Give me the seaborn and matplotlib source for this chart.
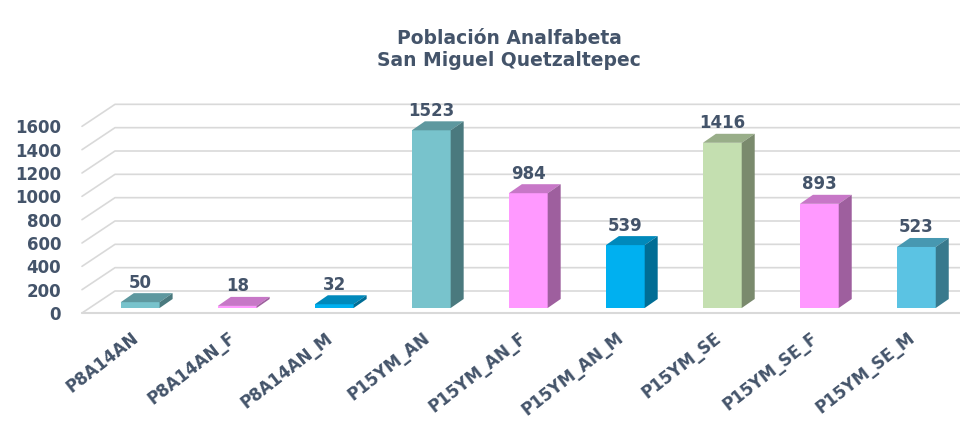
import numpy as np
import pandas as pd
import matplotlib
matplotlib.use("Agg")
import matplotlib.pyplot as plt
import matplotlib.transforms as mtransforms
from matplotlib.patches import Polygon
from matplotlib.colors import to_rgb
import seaborn as sns

categories = ["P8A14AN", "P8A14AN_F", "P8A14AN_M", "P15YM_AN", "P15YM_AN_F",
              "P15YM_AN_M", "P15YM_SE", "P15YM_SE_F", "P15YM_SE_M"]
values = [50, 18, 32, 1523, 984, 539, 1416, 893, 523]
bar_colors = ["#78C3CC", "#FF99FF", "#00B0F0", "#78C3CC", "#FF99FF",
              "#00B0F0", "#C4DFB0", "#FF99FF", "#5BC3E3"]
yticks = [0, 200, 400, 600, 800, 1000, 1200, 1400, 1600]
title = "Población Analfabeta\nSan Miguel Quetzaltepec"

TEXT = "#44546A"
GRID = "#D9D9D9"

sns.set_theme(style="white")
plt.rcParams["font.family"] = ["DejaVu Sans"]

DPI = 100
fig = plt.figure(figsize=(9.6, 4.21), dpi=DPI)
fig.patch.set_facecolor("white")
ax = fig.add_axes([82 / 960, (421 - 308) / 421, 878 / 960, 210 / 421])
ax.set_facecolor("none")

df = pd.DataFrame({"cat": categories, "val": values})
sns.barplot(data=df, x="cat", y="val", hue="cat", palette=bar_colors,
            legend=False, width=0.4, saturation=1, ax=ax, zorder=3)

ax.set_xlim(-0.6, 8.45)
ax.set_ylim(0, 1800)

# depth offsets (pixels)
DX, DY = 13, 9
px_x = (8.45 + 0.6) / 878.0
px_y = 1800 / 210.0
dxd, dyd = DX * px_x, DY * px_y

def shade(c, f):
    r, g, b = to_rgb(c)
    return (r * f, g * f, b * f)

bars = list(ax.patches)
for patch, col in zip(bars, bar_colors):
    x0 = patch.get_x()
    w = patch.get_width()
    h = patch.get_height()
    x1 = x0 + w
    top = Polygon([(x0, h), (x1, h), (x1 + dxd, h + dyd), (x0 + dxd, h + dyd)],
                  closed=True, facecolor=shade(col, 0.78), edgecolor="none", zorder=3)
    side = Polygon([(x1, 0), (x1, h), (x1 + dxd, h + dyd), (x1 + dxd, dyd)],
                   closed=True, facecolor=shade(col, 0.62), edgecolor="none", zorder=3)
    ax.add_patch(top)
    ax.add_patch(side)
    patch.set_edgecolor("none")

# perspective gridlines: front-left diagonal and back wall horizontal
back = ax.transData + mtransforms.ScaledTranslation(33 / DPI, 17 / DPI, fig.dpi_scale_trans)
front = ax.transData + mtransforms.ScaledTranslation(0, -5 / DPI, fig.dpi_scale_trans)
xl, xr = ax.get_xlim()
for v in yticks:
    p_front = front.transform((xl, v))
    p_back = back.transform((xl, v))
    p_right = back.transform((xr, v))
    ax.plot([p_front[0], p_back[0], p_right[0]], [p_front[1], p_back[1], p_right[1]],
            color=GRID, lw=1.2, transform=mtransforms.IdentityTransform(), zorder=1,
            clip_on=False)
pf0 = front.transform((xl, 0))
pf1 = front.transform((xr, 0))
ax.plot([pf0[0], pf1[0]], [pf0[1], pf1[1]], color=GRID, lw=1.5,
        transform=mtransforms.IdentityTransform(), zorder=1, clip_on=False)

# value labels
for patch, v in zip(bars, values):
    cx = patch.get_x() + patch.get_width() / 2
    ax.annotate(f"{v}", (cx, patch.get_height() + dyd), xytext=(0, 4),
                textcoords="offset points", ha="center", va="baseline",
                fontsize=12, fontweight="bold", color=TEXT, zorder=5)

ax.set_yticks(yticks)
ax.set_yticklabels([str(t) for t in yticks], fontsize=12, fontweight="bold", color=TEXT)
ax.tick_params(axis="y", length=0, pad=15)
offs = mtransforms.ScaledTranslation(0, -5 / DPI, fig.dpi_scale_trans)
for lab in ax.get_yticklabels():
    lab.set_transform(lab.get_transform() + offs)

ax.set_xticks(range(len(categories)))
ax.set_xticklabels(categories, rotation=38, ha="right", rotation_mode="anchor",
                   fontsize=12, fontweight="bold", color=TEXT)
ax.tick_params(axis="x", length=0, pad=15)
xoffs = mtransforms.ScaledTranslation(-9 / DPI, 0, fig.dpi_scale_trans)
for lab in ax.get_xticklabels():
    lab.set_transform(lab.get_transform() + xoffs)
ax.set_xlabel("")
ax.set_ylabel("")
for s in ax.spines.values():
    s.set_visible(False)
ax.grid(False)

fig.text(509 / 960, 1 - 49 / 421, title, ha="center", va="center", fontsize=13.5,
         fontweight="bold", color=TEXT, linespacing=1.2)

fig.savefig("out.png", dpi=DPI, facecolor="white")
